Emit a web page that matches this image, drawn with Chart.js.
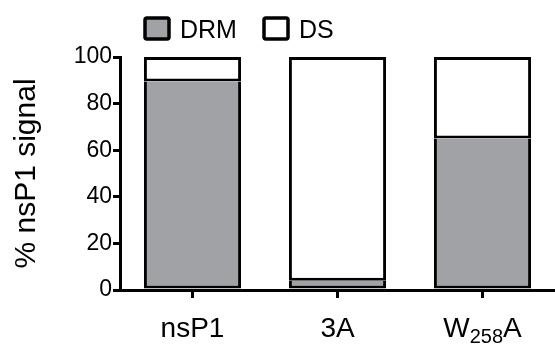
<!DOCTYPE html>
<html>
<head>
<meta charset="utf-8">
<script src="https://cdn.jsdelivr.net/npm/chart.js@4/dist/chart.umd.min.js"></script>
<style>
html,body{margin:0;padding:0;background:#fff;}
#wrap{width:555px;height:347px;position:relative;}
</style>
</head>
<body>
<div id="wrap"><canvas id="c" width="555" height="347"></canvas></div>
<script>
const categories = ['nsP1', '3A', 'W258A'];
const drmValues = [89.5, 4, 65];
const dsValues = [10.5, 96, 35];
const seriesNames = ['DRM', 'DS'];
const yTicks = [0, 20, 40, 60, 80, 100];
const yTitle = '% nsP1 signal';
// label parts: [text, isSubscript]
const labelParts = {
  'nsP1': [['nsP1', false]],
  '3A': [['3A', false]],
  'W258A': [['W', false], ['258', true], ['A', false]]
};

const FONT = '"Liberation Sans", Arial, Helvetica, sans-serif';
const GRAY = '#a1a2a5';

const customPlugin = {
  id: 'custom',
  afterDraw(chart) {
    const ctx = chart.ctx;
    const xs = chart.scales.x;
    ctx.save();
    ctx.fillStyle = '#000';
    ctx.textBaseline = 'alphabetic';
    categories.forEach((cat, i) => {
      const parts = labelParts[cat];
      const x = xs.getPixelForValue(i);
      let total = 0;
      parts.forEach(p => {
        ctx.font = (p[1] ? '20px ' : '28px ') + FONT;
        total += ctx.measureText(p[0]).width;
      });
      let cx = x - total / 2;
      parts.forEach(p => {
        ctx.font = (p[1] ? '20px ' : '28px ') + FONT;
        ctx.textAlign = 'left';
        ctx.fillText(p[0], cx, p[1] ? 343 : 337);
        cx += ctx.measureText(p[0]).width;
      });
    });
    // legend
    const items = [
      {label: seriesNames[0], fill: GRAY, x: 145},
      {label: seriesNames[1], fill: '#fff', x: 264}
    ];
    ctx.font = '25px ' + FONT;
    ctx.textAlign = 'left';
    items.forEach(it => {
      ctx.beginPath();
      if (ctx.roundRect) ctx.roundRect(it.x, 18, 24, 21, 2); else ctx.rect(it.x, 18, 24, 21);
      ctx.fillStyle = it.fill;
      ctx.fill();
      ctx.lineWidth = 3.5;
      ctx.strokeStyle = '#000';
      ctx.stroke();
      ctx.fillStyle = '#000';
      ctx.fillText(it.label, it.x + 35, 38);
    });
    ctx.restore();
  }
};

new Chart(document.getElementById('c'), {
  type: 'bar',
  data: {
    labels: categories,
    datasets: [
      {
        label: seriesNames[0],
        data: drmValues,
        backgroundColor: GRAY,
        borderColor: '#000',
        borderWidth: 3,
        borderSkipped: 'top',
        barPercentage: 0.67,
        categoryPercentage: 1
      },
      {
        label: seriesNames[1],
        data: dsValues,
        backgroundColor: '#fff',
        borderColor: '#000',
        borderWidth: 3,
        borderSkipped: false,
        barPercentage: 0.67,
        categoryPercentage: 1
      }
    ]
  },
  options: {
    responsive: false,
    animation: false,
    devicePixelRatio: 1,
    layout: {padding: {top: 57, right: 0, left: 0, bottom: 0}},
    plugins: {legend: {display: false}, tooltip: {enabled: false}},
    scales: {
      x: {
        stacked: true,
        border: {display: true, color: '#000', width: 3},
        grid: {display: true, drawOnChartArea: false, color: '#000', lineWidth: 3, tickLength: 8, offset: false},
        ticks: {color: 'rgba(0,0,0,0)', font: {family: FONT, size: 24}},
        afterFit(scale) { scale.height = 57; }
      },
      y: {
        stacked: true,
        min: 0,
        max: 100,
        afterBuildTicks(scale) { scale.ticks = yTicks.map(v => ({value: v})); },
        border: {display: true, color: '#000', width: 3},
        grid: {display: true, drawOnChartArea: false, color: '#000', lineWidth: 3, tickLength: 7},
        ticks: {color: '#000', font: {family: FONT, size: 23}, padding: 1},
        title: {display: true, text: yTitle, color: '#000', font: {family: FONT, size: 30}, padding: {top: 9, bottom: 0}},
        afterFit(scale) { scale.width = 120; }
      }
    }
  },
  plugins: [customPlugin]
});
</script>
</body>
</html>
